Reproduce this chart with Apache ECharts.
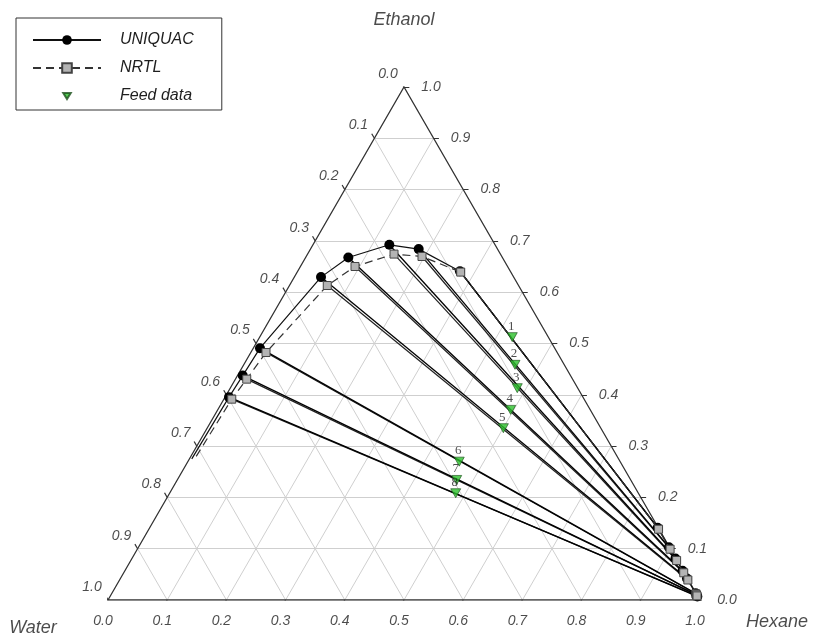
<!DOCTYPE html>
<html><head><meta charset="utf-8">
<script src="https://cdn.jsdelivr.net/npm/echarts@6/dist/echarts.min.js"></script>
<style>html,body{margin:0;padding:0;background:#fff}#c{width:817px;height:637px}</style>
</head><body><div id="c"></div>
<script>
// ---- data (ternary mole fractions: hexane, ethanol; water = 1 - hexane - ethanol) ----
const tickValues = [0, 0.1, 0.2, 0.3, 0.4, 0.5, 0.6, 0.7, 0.8, 0.9, 1.0];
const tickLabels = ['0.0','0.1','0.2','0.3','0.4','0.5','0.6','0.7','0.8','0.9','1.0'];
const vertexNames = ['Water', 'Hexane', 'Ethanol'];

// water-rich phase (left branch), tie lines 1..8 from bottom to top
const uniquacLeftHexane  = [0.0067, 0.0088, 0.0113, 0.0451, 0.0721, 0.1290, 0.1828, 0.2740];
const uniquacLeftEthanol = [0.3954, 0.4375, 0.4909, 0.6294, 0.6677, 0.6924, 0.6840, 0.6410];
const nrtlLeftHexane     = [0.0133, 0.0191, 0.0257, 0.0639, 0.0922, 0.1460, 0.1956, 0.2762];
const nrtlLeftEthanol    = [0.3915, 0.4305, 0.4824, 0.6130, 0.6501, 0.6743, 0.6696, 0.6392];
// tail of the binodal curve toward low ethanol
const uniquacTailHexane  = [0.004];
const uniquacTailEthanol = [0.275];
const nrtlTailHexane     = [0.009];
const nrtlTailEthanol    = [0.280];
// hexane-rich phase (right branch)
const uniquacRightHexane  = [0.992, 0.989, 0.986, 0.957, 0.942, 0.918, 0.896, 0.858];
const uniquacRightEthanol = [0.007, 0.010, 0.013, 0.042, 0.057, 0.081, 0.103, 0.141];
const nrtlRightHexane     = [0.991, 0.989, 0.987, 0.960, 0.946, 0.922, 0.900, 0.861];
const nrtlRightEthanol    = [0.008, 0.010, 0.012, 0.039, 0.053, 0.077, 0.099, 0.138];
// feed data
const feedLabels  = ['1','2','3','4','5','6','7','8'];
const feedHexane  = [0.4267, 0.4583, 0.4849, 0.4949, 0.5004, 0.4585, 0.4720, 0.4833];
const feedEthanol = [0.5124, 0.4584, 0.4129, 0.3706, 0.3349, 0.2697, 0.2340, 0.2081];

// ---- helpers ----
const SQ = Math.sqrt(3) / 2;
function tern(h, e) { return [h + e / 2, e * SQ]; }
function pts(hs, es) { return hs.map((h, i) => tern(h, es[i])); }

const FONT = 'Liberation Sans, Arial, sans-serif';
const TXT = '#1e1e1e';

// grid lines
const gridSegs = [];
tickValues.slice(1, -1).forEach(k => {
  gridSegs.push({coords: [tern(0, k), tern(1 - k, k)]});         // constant ethanol
  gridSegs.push({coords: [tern(k, 0), tern(k, 1 - k)]});         // constant hexane
  gridSegs.push({coords: [tern(1 - k, 0), tern(0, 1 - k)]});     // constant water
});
// ticks
const TL = 0.009;
const tickSegs = [];
tickValues.forEach(v => {
  const b = tern(v, 0);
  tickSegs.push({coords: [b, [b[0] - TL * 0.5, b[1] - TL * SQ]]});
  const l = tern(0, 1 - v);
  tickSegs.push({coords: [l, [l[0] - TL * 0.5, l[1] + TL * SQ]]});
  const r = tern(1 - v, v);
  tickSegs.push({coords: [r, [r[0] + TL, r[1]]]});
});

function ties(lh, le, rh, re) {
  return lh.map((h, i) => ({coords: [tern(h, le[i]), tern(rh[i], re[i])]}));
}

function labelSeries(data, offset, size, extra) {
  return Object.assign({
    type: 'scatter', silent: true, symbolSize: 1, z: 20,
    itemStyle: {color: 'rgba(0,0,0,0)'},
    label: {show: true, position: 'inside', offset: offset, color: TXT,
            fontFamily: FONT, fontStyle: 'italic', fontSize: size,
            align: 'center', verticalAlign: 'middle'},
    data: data
  }, extra || {});
}

const uniquacBinodal = [].concat(
  pts(uniquacTailHexane, uniquacTailEthanol).map(p => ({value: p, symbol: 'none'})),
  pts(uniquacLeftHexane, uniquacLeftEthanol),
  pts(uniquacRightHexane.slice().reverse(), uniquacRightEthanol.slice().reverse())
);
const nrtlBinodal = [].concat(
  pts(nrtlTailHexane, nrtlTailEthanol).map(p => ({value: p, symbol: 'none'})),
  pts(nrtlLeftHexane, nrtlLeftEthanol),
  pts(nrtlRightHexane.slice().reverse(), nrtlRightEthanol.slice().reverse())
);

const chart = echarts.init(document.getElementById('c'));
chart.setOption({
  animation: false,
  backgroundColor: '#fff',
  grid: {left: 108, top: 87, width: 592, height: 513},
  xAxis: {type: 'value', min: 0, max: 1, show: false},
  yAxis: {type: 'value', min: 0, max: SQ, show: false},
  legend: {
    orient: 'vertical', left: 16, top: 18,
    padding: [14, 28, 6, 16], itemGap: 12, itemWidth: 68, itemHeight: 12,
    borderColor: '#333', borderWidth: 1, selectedMode: false,
    textStyle: {fontFamily: FONT, fontStyle: 'italic', fontSize: 16, color: TXT, padding: [0, 0, 0, 14]},
    data: [{name: 'UNIQUAC'}, {name: 'NRTL'},
           {name: 'Feed data', icon: 'path://M0,0M16,16M3,4L13,4L8,12Z'}]
  },
  series: [
    {type: 'lines', coordinateSystem: 'cartesian2d', silent: true, z: 1,
     lineStyle: {color: '#cfcfcf', width: 1, opacity: 1}, data: gridSegs},
    {type: 'lines', coordinateSystem: 'cartesian2d', silent: true, z: 2, polyline: true,
     lineStyle: {color: '#333', width: 1.3, opacity: 1},
     data: [{coords: [tern(0, 0), tern(1, 0), tern(0, 1), tern(0, 0)]}]},
    {type: 'lines', coordinateSystem: 'cartesian2d', silent: true, z: 2,
     lineStyle: {color: '#333', width: 1.2, opacity: 1}, data: tickSegs},
    // tie lines
    {type: 'lines', coordinateSystem: 'cartesian2d', silent: true, z: 3,
     lineStyle: {color: '#222', width: 1.2, opacity: 1},
     data: ties(nrtlLeftHexane, nrtlLeftEthanol, nrtlRightHexane, nrtlRightEthanol)},
    {type: 'lines', coordinateSystem: 'cartesian2d', silent: true, z: 3,
     lineStyle: {color: '#000', width: 1.3, opacity: 1},
     data: ties(uniquacLeftHexane, uniquacLeftEthanol, uniquacRightHexane, uniquacRightEthanol)},
    // binodal curves
    {name: 'UNIQUAC', type: 'line', z: 5, data: uniquacBinodal,
     symbol: 'circle', symbolSize: 10, showAllSymbol: true,
     lineStyle: {color: '#111', width: 1.2},
     itemStyle: {color: '#000', borderColor: '#000', borderWidth: 0}},
    {name: 'NRTL', type: 'line', z: 6, data: nrtlBinodal,
     symbol: 'rect', symbolSize: 8, showAllSymbol: true,
     lineStyle: {color: '#333', width: 1.2, type: [8, 5]},
     itemStyle: {color: '#b4b4b4', borderColor: '#444', borderWidth: 1}},
    // feed
    {name: 'Feed data', type: 'scatter', z: 8, data: pts(feedHexane, feedEthanol),
     symbol: 'triangle', symbolRotate: 180, symbolSize: [10, 9],
     itemStyle: {color: '#2cc02c', borderColor: '#1c4f1c', borderWidth: 0.8},
     label: {show: true, position: 'inside', offset: [-1, -11],
             formatter: p => feedLabels[p.dataIndex],
             fontFamily: 'Liberation Serif, Times New Roman, serif', fontSize: 13, color: '#222'}},
    // tick labels
    labelSeries(tickValues.map((v, i) => ({value: tern(v, 0), label: {formatter: tickLabels[i]}})), [-5, 21], 14),
    labelSeries(tickValues.map((v, i) => ({value: tern(0, 1 - v), label: {formatter: tickLabels[i]}})), [-16, -13], 14),
    labelSeries(tickValues.map((v, i) => ({value: tern(1 - v, v), label: {formatter: tickLabels[i]}})), [27, 0], 14),
    // vertex names
    labelSeries([{value: tern(0, 0), label: {formatter: vertexNames[0], offset: [-75, 28]}},
                 {value: tern(1, 0), label: {formatter: vertexNames[1], offset: [77, 22]}},
                 {value: tern(0, 1), label: {formatter: vertexNames[2], offset: [0, -67]}}], [0, 0], 18)
  ]
});
</script></body></html>
